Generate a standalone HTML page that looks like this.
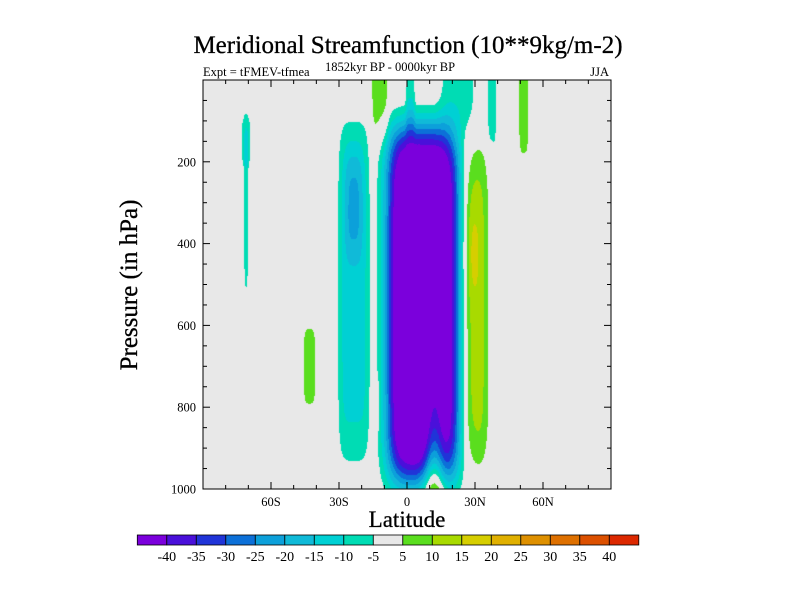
<!DOCTYPE html>
<html><head><meta charset="utf-8">
<style>
body{margin:0;background:#fff;width:800px;height:600px;overflow:hidden;font-family:"Liberation Serif",serif}
svg text{font-family:"Liberation Serif",serif}
</style></head>
<body>
<svg id="root" width="800" height="600" xmlns="http://www.w3.org/2000/svg">
<rect width="800" height="600" fill="#fff"/>
<text x="408" y="53" font-size="25" text-anchor="middle" stroke="#000" stroke-width="0.3">Meridional Streamfunction (10**9kg/m-2)</text>
<text x="203" y="76" font-size="12.5">Expt = tFMEV-tfmea</text>
<text x="390" y="71" font-size="12.5" text-anchor="middle">1852kyr BP - 0000kyr BP</text>
<text x="609" y="76" font-size="12.5" text-anchor="end">JJA</text>
<foreignObject x="203" y="80" width="408" height="409"><canvas xmlns="http://www.w3.org/1999/xhtml" id="cv" width="408" height="409" style="display:block"></canvas></foreignObject>
<g id="axes"></g>
<text x="407" y="527" font-size="23" text-anchor="middle" stroke="#000" stroke-width="0.3">Latitude</text>
<text transform="translate(137,285) rotate(-90)" font-size="25" text-anchor="middle" stroke="#000" stroke-width="0.3">Pressure (in hPa)</text>
<g id="cbar"></g>
</svg>
<script>
// contour levels and colours
const levels=[-40,-35,-30,-25,-20,-15,-10,-5,5,10,15,20,25,30,35,40];
const colors=["#7B00DC","#4A10DA","#2034D8","#0C70D8","#0CA0DA","#10BAD8","#00D0D4","#00DCB4","#E8E8E8","#5ADE1E","#A8DA00","#D6CE00","#E0B000","#DE9000","#DE7000","#DC5000","#DC2800"];
// field features (10**9 kg/s): centre lat, centre pressure, amplitude, half-widths, exponents
const featLat=[7,12,-23.5,-23.5,30,29,-12,1.5,22.5,37.5,51.5,-71,-71,-43,-14];
const featP  =[550,1000,520,305,555,425,0,0,0,0,0,150,330,700,795];
const featAmp=[-62,27,-12,-10,13,5,8,-8,-8,-8,8,-7,-7,8,7];
const featWLat=[16,4.5,7,4,6,3,4,2,8,2.2,2.5,2.5,1,3,1.5];
const featWP =[435,380,420,140,390,120,155,140,120,190,215,70,230,110,65];
const featNLat=[4,2,5,3,3,2,4,4,4,4,4,4,4,4,4];
const featNP =[8,2,6,3,6,2,4,4,4,4,4,4,4,4,4];
const xTicks=[-60,-30,0,30,60];
const xTickLabels=["60S","30S","0","30N","60N"];
const yTicks=[200,400,600,800,1000];

const X0=203,X1=611,Y0=80,Y1=489;
const xs=lat=>X0+(lat+90)/180*(X1-X0);
const ys=p=>Y0+p/1000*(Y1-Y0);
function field(lat,p){
  let v=0;
  for(let i=0;i<featLat.length;i++){
    const u=Math.abs((lat-featLat[i])/featWLat[i]),w=Math.abs((p-featP[i])/featWP[i]);
    v+=featAmp[i]*Math.exp(-Math.pow(u,featNLat[i])-Math.pow(w,featNP[i]));
  }
  return v;
}
function colorOf(v){let k=0;while(k<levels.length&&v>=levels[k])k++;return colors[k];}
const cv=document.getElementById('cv'),ctx=cv.getContext('2d');
const img=ctx.createImageData(408,409);
const cache={};
for(let py=0;py<409;py++)for(let px=0;px<408;px++){
  const lat=-90+(px+0.5)/408*180,p=(py+0.5)/409*1000;
  const c=colorOf(field(lat,p));
  let rgb=cache[c];if(!rgb){rgb=cache[c]=[parseInt(c.substr(1,2),16),parseInt(c.substr(3,2),16),parseInt(c.substr(5,2),16)];}
  const o=(py*408+px)*4;img.data[o]=rgb[0];img.data[o+1]=rgb[1];img.data[o+2]=rgb[2];img.data[o+3]=255;
}
ctx.putImageData(img,0,0);

const NS="http://www.w3.org/2000/svg";
function mk(tag,attrs,parent){const e=document.createElementNS(NS,tag);for(const k in attrs)e.setAttribute(k,attrs[k]);parent.appendChild(e);return e;}
const ax=document.getElementById('axes');
const frame=mk('rect',{x:X0,y:Y0,width:X1-X0,height:Y1-Y0,fill:'none',stroke:'#000','stroke-width':1},ax);


for(let lat=-80;lat<=80;lat+=10){
  const major=lat%30===0,L=major?7:4,x=xs(lat);
  const t1=mk('line',{x1:x,x2:x,y1:Y1,y2:Y1-L,stroke:'#000'},ax);
  
  
  const t2=mk('line',{x1:x,x2:x,y1:Y0,y2:Y0+L,stroke:'#000'},ax);
  
  
}
xTicks.forEach((v,i)=>{
  const t=mk('text',{x:xs(v),y:506,'font-size':12.5,'text-anchor':'middle'},ax);t.textContent=xTickLabels[i];
  
  
});
for(let p=50;p<1000;p+=50){
  const major=p%200===0,L=major?7:4,y=ys(p);
  const t1=mk('line',{x1:X0,x2:X0+L,y1:y,y2:y,stroke:'#000'},ax);
  
  
  const t2=mk('line',{x1:X1,x2:X1-L,y1:y,y2:y,stroke:'#000'},ax);
  
  
}
yTicks.forEach(v=>{
  const t=mk('text',{x:196,y:ys(v)+4.5,'font-size':12.5,'text-anchor':'end'},ax);t.textContent=v;
  
  
});
const cb=document.getElementById('cbar');
const CB0=137.3,CBW=29.5;
colors.forEach((c,i)=>{
  const r=mk('rect',{x:CB0+i*CBW,y:535,width:CBW,height:10,fill:c,stroke:'#000','stroke-width':0.8},cb);
  
  
});
levels.forEach((v,i)=>{
  const t=mk('text',{x:CB0+(i+1)*CBW,y:561,'font-size':14,'text-anchor':'middle'},cb);t.textContent=v;
  
  
});
</script>
</body></html>
